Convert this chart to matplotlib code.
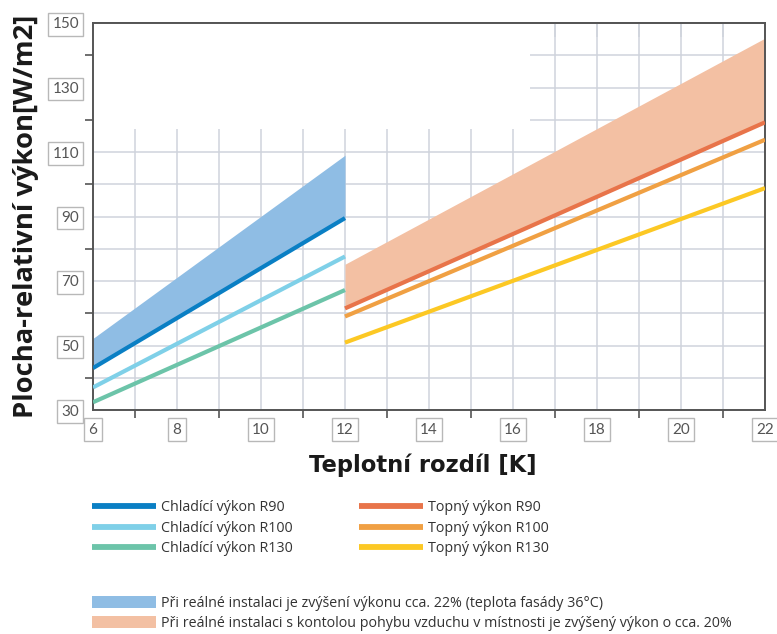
import matplotlib.pyplot as plt
from matplotlib.patches import Rectangle, Patch
from matplotlib.lines import Line2D

plt.rcParams['font.family'] = ['Open Sans', 'DejaVu Sans']

# cooling (6..12 K)
cool_x = [6, 12]
cool_r90 = [43.0, 89.5]
cool_r100 = [37.0, 77.6]
cool_r130 = [32.4, 67.2]
cool_real = [52.2, 109.0]

# heating (12..22 K)
heat_x = [12, 22]
heat_r90 = [61.5, 119.2]
heat_r100 = [59.0, 113.8]
heat_r130 = [50.9, 98.8]
heat_real = [75.2, 145.3]

cool_labels = ['Chladící výkon R90', 'Chladící výkon R100', 'Chladící výkon R130']
heat_labels = ['Topný výkon R90', 'Topný výkon R100', 'Topný výkon R130']
band_labels = ['Při reálné instalaci je zvýšení výkonu cca. 22% (teplota fasády 36°C)',
               'Při reálné instalaci s kontolou pohybu vzduchu v místnosti je zvýšený výkon o cca. 20%']

cool_colors = ['#0a7fc4', '#7fd0e8', '#6cc4a9']
heat_colors = ['#e8744a', '#f0a043', '#fcc824']
band_colors = ['#8fbde4', '#f3c0a3']

grid_col = '#cfd3dc'
axis_col = '#555555'

fig = plt.figure(figsize=(7.77, 6.34), dpi=100)
ax = fig.add_axes([93 / 777, 1 - 410 / 634, 672 / 777, 387 / 634])
ax.set_xlim(6, 22)
ax.set_ylim(30, 150)
ax.set_xticks(range(6, 23, 2))
ax.set_xticks(range(7, 22, 2), minor=True)
ax.set_yticks(range(30, 151, 20))
ax.set_yticks(range(40, 141, 20), minor=True)
ax.set_axisbelow(True)
ax.grid(which='both', color=grid_col, lw=1.1)
# blank block in the upper left of the grid
ax.add_patch(Rectangle((6, 117), 10.4, 33, fc='white', ec='none', zorder=1))

ax.fill_between(cool_x, cool_r90, cool_real, color=band_colors[0], lw=0, zorder=2)
ax.fill_between(heat_x, heat_r90, heat_real, color=band_colors[1], lw=0, zorder=2)

for ys, c in zip([cool_r90, cool_r100, cool_r130], cool_colors):
    ax.plot(cool_x, ys, color=c, lw=3, zorder=3, solid_capstyle='butt')
for ys, c in zip([heat_r90, heat_r100, heat_r130], heat_colors):
    ax.plot(heat_x, ys, color=c, lw=3, zorder=3, solid_capstyle='butt')

for s in ax.spines.values():
    s.set_color(axis_col)
    s.set_linewidth(1.4)
ax.tick_params(which='major', length=0, labelsize=11, labelcolor=axis_col)
ax.tick_params(axis='y', which='major', pad=10)
ax.tick_params(axis='x', which='major', pad=9)
ax.tick_params(which='minor', length=6, direction='out', color=axis_col, width=1.2)
box = dict(boxstyle='square,pad=0.28', fc='white', ec='#b8b8b8', lw=1)
for lab in ax.get_xticklabels() + ax.get_yticklabels():
    lab.set_bbox(box)
    lab.set_family(['Lato', 'DejaVu Sans'])

# short stubs in the blank block
top = ax.secondary_xaxis('top')
top.set_xticks(range(6, 23))
top.tick_params(direction='in', length=10, color=grid_col, width=1.1, labeltop=False)
top.spines['top'].set_color(axis_col)
top.spines['top'].set_linewidth(1.4)
lft = ax.secondary_yaxis('left')
lft.set_yticks([120, 130, 140])
lft.tick_params(direction='in', length=10, color=grid_col, width=1.1, labelleft=False)
lft.spines['left'].set_visible(False)

ax.set_ylabel('Plocha-relativní výkon[W/m2]', fontsize=19.7, fontweight='bold',
              va='center', color='#1a1a1a')
ax.yaxis.set_label_coords((26 - 93) / 672, 0.5)
ax.set_xlabel('Teplotní rozdíl [K]', fontsize=16.3, fontweight='bold',
              va='center', color='#1a1a1a', family='DejaVu Sans')
ax.xaxis.set_label_coords((423 - 93) / 672, (410 - 465) / 387)

line_handles = [Line2D([], [], color=c, lw=4.2, solid_capstyle='butt')
                for c in cool_colors + heat_colors]
leg1 = fig.legend(handles=line_handles, labels=cool_labels + heat_labels, loc='upper left',
                  bbox_to_anchor=(92 / 777, 1 - 500 / 634), ncol=2, frameon=False,
                  fontsize=10.3, handlelength=4.5, handletextpad=0.33, labelspacing=0.4,
                  columnspacing=4.6, borderpad=0, borderaxespad=0, labelcolor='#333333')
band_handles = [Patch(color=c, lw=0) for c in band_colors]
leg2 = fig.legend(handles=band_handles, labels=band_labels, loc='upper left',
                  bbox_to_anchor=(92 / 777, 1 - 596 / 634), frameon=False,
                  fontsize=10.3, handlelength=4.5, handleheight=0.9, handletextpad=0.33,
                  labelspacing=0.33, borderpad=0, borderaxespad=0, labelcolor='#333333')

fig.savefig('out.png', dpi=100)
